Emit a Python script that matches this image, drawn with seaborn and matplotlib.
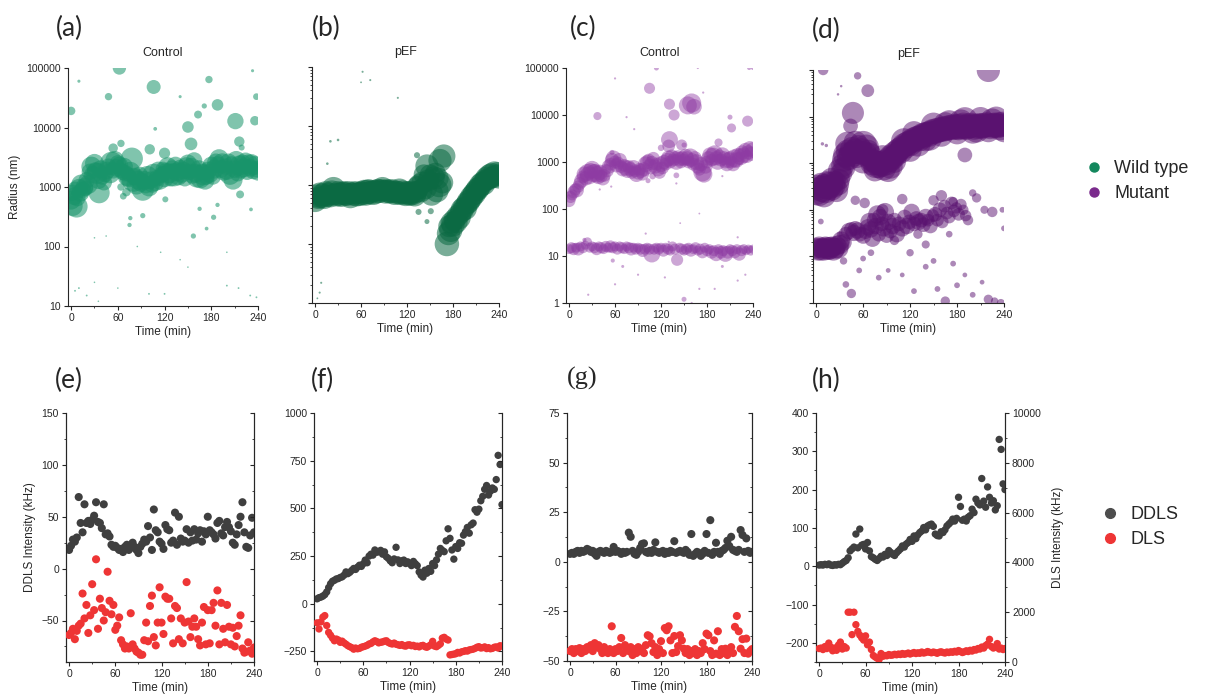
import numpy as np
import pandas as pd
import matplotlib
matplotlib.use("Agg")
import matplotlib.pyplot as plt
from matplotlib.lines import Line2D
from matplotlib.ticker import NullLocator, LogLocator, FuncFormatter, MultipleLocator, NullFormatter
import seaborn as sns

# ---------------- DATA ----------------
# Top row: (time min, radius nm, relative intensity %)
a_band = [(0,600,40),(1,800,30),(2,480,45),(4,700,35),(5,900,30),(7,470,55),(8,650,30),(10,950,40),(12,800,35),(13,1100,45),
          (15,900,30),(17,1000,35),(19,950,25),(20,1300,30),(22,1100,40),(24,1800,30),(26,2200,45),(28,1600,35),(30,2500,40),
          (31,1900,30),(33,1700,50),(35,1300,35),(36,800,50),(38,2000,35),(40,1500,30),(42,1200,30),(44,1600,25),(46,1900,35),
          (48,2200,30),(50,1700,45),(52,2500,60),(54,1900,30),(56,2800,40),(58,2100,35),(60,2500,30),(62,2300,35),(64,1900,25),
          (66,1800,30),(68,2200,35),(70,1700,30),(72,1500,40),(74,1400,35),(76,1800,45),(78,3000,55),(80,1300,60),(82,1500,35),
          (84,1100,45),(86,1300,40),(88,1600,30),(90,1200,40),(92,900,55),(94,1300,40),(96,1100,35),(98,1500,50),(100,1000,40),
          (102,1300,35),(104,1100,30),(106,1600,55),(108,1200,35),(110,1400,30),(112,1900,35),(114,1300,40),(116,1600,30),
          (118,2000,25),(120,1500,50),(122,1800,35),(124,2200,40),(126,1700,45),(128,1400,30),(130,2000,35),(132,1600,60),
          (134,2300,35),(136,1800,40),(138,1500,35),(140,2100,30),(142,1700,40),(144,1900,35),(146,1400,30),(148,2200,40),
          (150,2500,35),(152,1800,30),(154,2100,45),(156,1600,35),(158,2800,30),(160,1700,40),(162,1500,55),(164,2000,35),
          (166,1400,45),(168,1800,30),(170,1600,50),(172,1300,40),(174,1500,30),(176,1900,35),(178,1700,40),(180,2300,35),
          (182,1500,30),(184,2000,40),(186,2600,35),(188,2400,30),(190,3000,40),(192,2000,35),(194,2500,45),(196,1800,35),
          (198,2200,30),(200,1900,40),(202,2600,35),(204,1600,45),(206,2400,30),(208,1300,40),(210,2000,35),(212,2800,40),
          (214,1700,30),(216,2300,45),(218,1900,30),(220,2500,35),(222,2100,40),(224,2700,35),(226,1800,30),(228,2400,45),
          (230,2100,35),(232,2600,30),(234,1900,35),(236,2300,40),(238,2000,30),(240,1800,35)]
a_out = [(0,19000,8),(62,100000,20),(106,48000,22),(48,33000,6),(177,64000,6),(188,24000,15),(211,12800,30),(236,13000,10),
         (238,33000,5),(150,10200,15),(154,5300,18),(163,16500,7),(171,23000,3),(216,5800,12),(219,4600,4),(101,4300,12),
         (120,3700,14),(54,4500,10),(64,5400,6),(64,1000,6),(71,820,8),(67,700,5),(217,750,7),(121,620,4),(92,330,3),
         (76,300,2),(75,230,2),(188,500,2),(183,310,3),(165,430,2),(157,150,3),(174,200,1.5),(231,420,1.5),(108,9500,1.5),
         (140,33000,1),(10,60000,1),(233,90000,1),(5,18,0.3),(10,20,0.3),(20,15,0.3),(30,25,0.2),(60,20,0.2),(100,16,0.3),
         (120,16,0.3),(140,60,0.2),(150,45,0.2),(200,22,0.3),(215,20,0.3),(230,15,0.3),(238,14,0.3),(45,150,0.2),(200,80,0.2),
         (85,100,0.2),(30,140,0.2),(115,80,0.2),(35,12,0.2)]

b_band = [(0,560,50),(2,650,45),(4,600,40),(6,700,45),(8,620,40),(10,680,45),(12,600,40),(14,720,50),(16,650,40),(18,700,45),
          (20,640,40),(22,760,45),(24,850,50),(26,700,40),(28,680,45),(30,760,40),(32,700,45),(34,650,40),(36,720,45),(38,760,40),
          (40,700,45),(42,680,40),(44,740,45),(46,650,50),(48,720,40),(50,700,45),(52,760,40),(54,680,45),(56,730,40),(58,690,45),
          (60,760,40),(62,720,45),(64,800,40),(66,700,45),(68,760,50),(70,820,40),(72,740,45),(74,780,40),(76,720,45),(78,800,40),
          (80,760,45),(82,830,40),(84,780,45),(86,820,40),(88,870,45),(90,800,40),(92,760,45),(94,820,40),(96,780,45),(98,740,40),
          (100,800,45),(102,760,40),(104,720,45),(106,780,40),(108,740,45),(110,800,50),(112,700,40),(114,760,45),(116,720,40),
          (118,690,45),(120,760,40),(122,720,45),(124,680,40),(126,750,45),(128,700,40),(130,680,45),(132,760,40),(134,900,45),
          (136,1000,40),(138,800,45),(140,1100,40),(142,1500,35),(144,900,45),(146,2100,45),(148,1200,40),(150,1500,35),
          (152,700,45),(155,1350,40),(157,1600,35),(159,800,45),(160,1300,40),(162,1000,50),(163,2600,45),(168,3100,45),
          (166,1100,40),(172,100,50),(174,150,45),(175,200,40),(177,170,45),(178,230,40),(180,210,45),(182,260,40),(184,240,45),
          (186,300,40),(188,280,45),(190,340,40),(192,380,45),(194,420,40),(196,400,45),(198,480,40),(200,520,45),(202,560,40),
          (204,620,45),(206,680,40),(208,720,45),(210,800,40),(212,850,45),(214,900,40),(216,1000,45),(218,1100,40),
          (220,1050,45),(222,1200,40),(224,1300,45),(226,1250,40),(228,1400,50),(230,1500,45),(232,1350,40),(234,1600,45),
          (236,1450,40),(238,1550,45),(240,1400,50)]
b_out = [(133,3200,3),(135,350,3),(151,360,3),(146,240,2),(62,83000,0.3),(72,60000,0.3),(20,5500,0.5),(30,5800,0.5),
         (16,2300,0.5),(108,30000,0.3),(8,22,0.3),(6,15,0.3),(60,55000,0.2),(3,12,0.2)]

c_band = [(0,150,20),(2,180,18),(4,200,15),(6,230,20),(8,260,18),(10,250,25),(12,300,18),(14,350,20),(16,400,25),(18,480,20),
          (20,550,30),(22,450,25),(24,600,35),(26,520,40),(28,650,30),(30,700,35),(32,580,40),(34,620,30),(36,550,35),(38,480,25),
          (40,600,30),(42,500,20),(44,450,25),(46,520,20),(48,700,15),(50,650,20),(52,800,25),(54,900,20),(56,1100,25),(58,1200,30),
          (60,1000,20),(62,850,25),(64,950,20),(66,1100,25),(68,800,20),(70,700,25),(72,850,20),(74,750,30),(76,650,25),(78,800,20),
          (80,700,25),(82,600,20),(84,750,30),(86,650,20),(88,550,30),(90,600,25),(92,700,20),(94,650,25),(96,550,20),(98,700,25),
          (100,900,30),(102,1000,25),(104,1100,20),(106,800,30),(108,950,25),(110,1200,20),(112,800,25),(114,900,20),(116,700,25),
          (118,600,20),(120,900,30),(122,750,20),(124,1000,25),(126,900,20),(128,1100,25),(130,1200,30),(132,1000,20),
          (134,1300,25),(136,1100,20),(138,1200,25),(140,1000,30),(142,1300,20),(144,1150,25),(146,1000,20),(148,1200,25),
          (150,1100,20),(152,1300,30),(154,1200,25),(156,1000,20),(158,1250,40),(160,1100,25),(162,900,20),(164,1200,25),
          (166,1000,30),(168,800,25),(170,700,20),(172,900,25),(174,600,40),(176,550,35),(178,800,25),(180,1000,20),
          (182,1200,25),(184,1400,30),(186,1100,20),(188,1300,40),(190,1500,35),(192,1200,25),(194,1000,30),(196,1300,25),
          (198,1100,20),(200,1400,30),(202,1200,25),(204,1000,20),(206,900,25),(208,1100,30),(210,1200,25),(212,1000,20),
          (214,900,25),(216,1200,40),(218,1100,30),(220,1400,25),(222,1200,20),(224,1300,35),(226,1600,25),(228,1400,30),
          (230,1800,25),(232,1300,20),(234,1600,25),(236,1900,30),(238,1500,25),(240,1800,30)]
c_low = [(0,14,12),(3,15,15),(6,14,18),(9,15,12),(12,14,20),(15,16,12),(18,15,15),(21,17,10),(24,20,10),(27,15,12),
         (30,16,12),(33,15,15),(36,14,18),(39,16,12),(42,15,15),(45,14,12),(48,16,15),(51,15,12),(54,16,18),(57,15,15),
         (60,16,12),(63,14,15),(66,16,12),(69,15,15),(72,14,12),(75,16,12),(78,15,15),(81,14,20),(84,15,12),(87,14,15),
         (90,15,12),(93,14,15),(96,13,20),(99,14,15),(102,15,12),(105,14,15),(108,11,35),(111,14,15),(114,15,12),(117,14,15),
         (120,15,12),(123,13,18),(126,15,12),(129,14,15),(132,13,12),(135,16,12),(138,14,15),(141,8.3,18),(144,15,12),
         (147,14,15),(150,13,12),(153,14,15),(156,15,12),(159,13,18),(162,14,12),(165,15,15),(168,13,12),(171,14,15),
         (174,12,18),(177,15,12),(180,13,15),(183,14,12),(186,12,20),(189,13,15),(192,11,25),(195,14,12),(198,12,20),
         (201,13,15),(204,11,30),(207,12,20),(210,14,12),(213,13,15),(216,12,18),(219,14,12),(222,11,22),(225,13,15),
         (228,14,12),(231,13,10),(234,14,10),(237,13,12),(240,14,10)]
c_out = [(131,3000,35),(130,2200,20),(147,2300,15),(155,16000,40),(160,18000,45),(163,15000,30),(131,17000,15),
         (137,10000,15),(105,37000,15),(114,100000,3),(168,100000,0.5),(175,30000,0.5),(210,9000,3),(212,5300,10),(233,7400,15),
         (235,100000,2),(240,100000,2),(37,9500,8),(195,2600,8),(120,2000,5),(109,500,5),(140,520,4),(103,400,3),(56,1600,3),
         (150,2300,3),(60,60000,0.5),(75,9000,0.5),(85,5000,0.5),(20,22,2),(40,260,0.5),(220,25,0.5),(150,1.2,3),(160,1,0.5),
         (55,300,0.5),(140,350,0.5),(70,6,1),(90,4,0.5),(200,6,1),(190,2,0.5),(220,3,0.5),(230,4,0.5),(130,20,0.5),(100,30,0.5),
         (145,50,0.3),(170,80,0.3),(57,8,2),(200,500,0.5),(170,2,0.5),(125,3.5,0.5),(60,2.5,0.5),(25,1.5,0.5)]

d_band = [(0,250,70),(2,300,60),(4,220,55),(6,350,50),(8,280,65),(10,320,55),(12,260,60),(14,380,50),(16,300,55),(18,350,60),
          (20,280,50),(22,330,55),(24,400,45),(26,260,50),(28,350,45),(30,450,40),(32,600,45),(34,900,50),(36,1200,55),
          (38,1500,60),(40,1800,50),(42,1300,55),(44,1600,50),(46,2000,55),(48,1500,50),(50,1800,60),(52,1400,50),(54,2200,55),
          (56,1700,50),(58,2000,45),(60,2500,70),(62,1600,55),(64,2200,60),(66,1800,50),(68,1500,55),(70,1200,50),(72,1000,55),
          (74,1100,50),(76,900,60),(78,1000,55),(80,850,50),(82,1000,55),(84,900,50),(86,800,60),(88,1100,50),(90,1000,55),
          (92,700,50),(94,1200,60),(96,1400,55),(98,1300,50),(100,1600,55),(102,1500,50),(104,1800,55),(106,2000,50),
          (108,1800,55),(110,2200,50),(112,2400,55),(114,2200,50),(116,2600,55),(118,2800,50),(120,2600,55),(122,3000,50),
          (124,3200,55),(126,3000,50),(128,3400,55),(130,3600,50),(132,3300,55),(134,3800,50),(136,4000,55),(138,3700,50),
          (140,4200,55),(142,4400,50),(144,4100,55),(146,4600,50),(148,4800,55),(150,4500,50),(152,5000,55),(154,4700,50),
          (156,5200,55),(158,5000,50),(160,5400,55),(162,5100,50),(164,5600,55),(166,5300,50),(168,5800,55),(170,5500,50),
          (172,6000,55),(174,5600,50),(176,6200,55),(178,5800,50),(180,6000,60),(182,5500,50),(184,6300,55),(186,5800,50),
          (188,6500,60),(190,6000,55),(192,5600,50),(194,6400,55),(196,6000,50),(198,6600,55),(200,6200,50),(202,5800,55),
          (204,6500,50),(206,6100,55),(208,6700,50),(210,6300,55),(212,5900,50),(214,6600,55),(216,6200,50),(218,6800,55),
          (220,6400,50),(222,6000,55),(224,6700,50),(226,6300,55),(228,6900,50),(230,6500,55),(232,6100,50),(234,6800,55),
          (236,6400,50),(238,7000,55),(240,6600,50)]
d_band2 = [(112,3000,60),(120,1900,50),(130,2600,60),(140,3200,50),(150,6500,60),(160,4000,50),(170,7500,55),(180,4500,50),
           (190,8500,60),(200,4800,55),(210,8800,55),(220,5000,50),(230,9000,55),(240,5000,50),(100,1100,50),(60,1100,55),
           (50,2800,50),(40,2600,55),(20,450,50),(10,200,50),(85,1300,60),(75,700,45),(95,850,55),(30,700,50),(36,800,45),
           (125,4500,50),(145,3400,55),(165,7000,50),(185,7800,55),(205,5200,60),(225,8200,55),(235,5800,60)]
d_low = [(0,15,40),(2,14,45),(4,16,40),(6,14,45),(8,15,40),(10,14,45),(12,16,40),(14,15,45),(16,14,40),(18,15,45),
         (20,16,40),(22,14,45),(24,15,40),(26,17,35),(28,15,40),(30,18,35),(32,22,30),(35,20,25),(38,30,20),(42,35,25),
         (45,38,20),(48,32,25),(50,40,20),(53,36,25),(56,30,20),(60,28,25),(63,34,20),(66,42,25),(68,55,30),(70,38,25),
         (72,24,25),(74,60,20),(76,45,25),(78,80,30),(80,30,20),(82,70,25),(84,50,20),(86,40,25),(88,90,30),(90,28,20),
         (92,55,25),(95,35,20),(98,45,25),(100,60,20),(103,30,25),(106,50,20),(110,40,25),(113,70,20),(116,45,25),
         (119,55,20),(122,90,25),(125,50,20),(128,65,20),(131,55,25),(134,60,20),(137,48,20),(140,70,25),(143,60,15),
         (146,45,20),(149,75,15),(152,80,20),(155,60,15),(158,100,20),(161,55,15),(164,120,15),(167,85,15),(170,70,15),
         (173,140,15),(176,95,15),(179,110,12),(182,80,15),(185,130,12),(188,100,10),(191,75,12),(194,60,10)]
d_out = [(47,12000,45),(44,6300,20),(66,36000,15),(53,75000,5),(9,100000,10),(220,98000,50),(190,1500,20),(8,2600,1),
         (13,2400,1),(28,30000,0.5),(32,45000,0.5),(6,56,3),(50,160,8),(62,140,10),(85,100,12),(110,170,10),(130,30,8),
         (150,160,10),(160,200,12),(175,150,8),(200,230,5),(205,180,8),(215,100,6),(225,90,10),(238,100,3),(35,8,5),
         (38,2.5,4),(45,1.6,8),(55,5,3),(70,12,4),(80,3.5,3),(92,5,2),(110,4,2),(125,1.8,3),(140,6,3),(155,2,3),
         (165,1.1,8),(175,7,3),(180,2.4,3),(190,4,2),(200,1.5,3),(212,2.8,2),(220,1.2,8),(228,1.1,5),(236,1.0,6),
         (150,8,3),(120,12,5),(140,18,6),(30,30,3),(240,40,3),(170,30,4),(60,9,3),(100,22,8)]

# Bottom row: intensities sampled evenly over 0-240 min
e_ddls = [18,22,28,26,30,69,44,35,62,44,46,43,47,51,64,45,44,39,62,33,34,31,23,21,22,20,18,19,16,21,23,18,20,25,21,18,15,
          21,24,28,26,41,30,18,57,37,35,26,24,19,42,38,37,25,27,54,23,50,29,26,27,38,25,35,27,38,28,34,37,26,36,33,50,37,
          35,33,29,44,46,34,32,40,45,40,36,25,23,33,42,50,64,35,21,20,32,49,35]
e_dls = [-64,-62,-58,-68,-60,-55,-53,-24,-48,-35,-62,-45,-15,-40,9,-58,-29,-38,-50,-42,-3,-31,-44,-35,-59,-55,-47,-69,
         -73,-77,-75,-77,-43,-73,-77,-80,-81,-83,-83,-69,-52,-70,-36,-26,-66,-74,-52,-18,-52,-63,-27,-29,-29,-48,-72,-36,
         -38,-68,-48,-72,-52,-13,-51,-66,-56,-48,-56,-68,-74,-52,-37,-73,-40,-72,-40,-33,-55,-21,-73,-33,-58,-71,-35,-56,
         -73,-57,-75,-65,-55,-45,-77,-81,-80,-71,-79,-82,-76]
f_ddls = [26,32,35,40,48,62,85,105,118,123,130,132,138,141,150,167,158,165,175,185,180,192,202,196,210,229,215,250,260,
          255,282,270,273,280,260,272,246,238,225,215,235,296,230,211,225,229,211,220,211,200,222,210,200,167,150,140,176,
          160,185,170,211,200,230,260,290,280,273,330,393,343,282,234,300,290,320,317,360,378,400,370,414,423,493,480,496,
          540,563,600,620,570,590,607,600,651,778,730,520]
f_dls = [-100,-132,-95,-70,-62,-114,-150,-165,-180,-194,-185,-190,-202,-196,-205,-212,-220,-225,-230,-238,-232,-236,
         -234,-228,-225,-222,-218,-211,-208,-200,-194,-198,-205,-202,-200,-196,-194,-203,-208,-211,-206,-212,-215,-218,
         -214,-220,-222,-216,-215,-220,-218,-224,-222,-226,-220,-218,-225,-228,-222,-215,-197,-222,-225,-218,-210,-180,
         -176,-185,-190,-268,-266,-264,-262,-255,-258,-252,-250,-246,-248,-242,-240,-238,-234,-228,-225,-232,-230,-226,
         -235,-230,-236,-234,-228,-226,-232,-220,-222]
g_ddls = [4,4.5,4,5,5.5,4.5,5.5,5,5.5,6.5,6,5,5.5,4,3,5,5.5,5,4.5,5.5,5,4.5,5,7.5,5,5.5,5,4,5,4.5,5,14.7,12.6,5.5,4,
          3.5,5,7,9,9.3,5,4.5,5.5,4.5,6,9.8,5,4.5,5,5.5,4,5,4.5,5.5,5,10.4,4.5,5,5.5,5,4.5,6,5,3.5,14,3,4,5,4.5,3,4,
          5.5,14,4.5,21,3.5,5,9.6,5,4,5.5,6,7,10.6,8,12.6,6,5.5,5,6,16,13.5,5,11.8,5.5,4.5,5]
g_dls = [-45,-44,-46,-44,-45,-43.5,-46,-44,-45,-43,-44,-42,-45,-41,-43,-42,-44,-46,-43,-45,-46,-44,-32.5,-46,-44,-45,
         -43,-38.4,-46,-42,-44,-45,-43,-47,-44,-46,-43,-45,-44,-46,-42,-37,-37.6,-41,-45.5,-43,-47,-44,-40,-46,-33.4,
         -34.5,-32.5,-39.6,-46,-37.4,-45.5,-42.5,-37,-39.6,-43.8,-46,-44,-47,-45,-46,-44,-47,-45,-46,-41,-44,-36.2,-37,
         -45,-47,-39.6,-46.3,-35,-47,-44,-46,-43.8,-47,-45,-43,-46,-32.8,-27.3,-35,-43.8,-39,-46,-38.7,-46.3,-45,-44]
h_ddls = [3,4,3,5,4,6,3,2,4,3,5,4,8,12,15,22,40,45,50,84,48,97,55,57,45,62,40,25,22,18,15,20,26,24,31,28,41,36,31,28,
          35,40,45,53,50,58,62,70,65,79,72,82,88,92,101,95,105,108,110,104,84,80,79,90,88,95,105,110,115,123,118,125,180,
          156,120,123,118,128,132,149,140,175,165,160,229,170,154,207,180,165,171,147,158,331,305,215,200]
h_dls_khz = [540,560,500,620,540,760,600,450,560,470,680,800,520,620,560,2000,2000,1100,2000,1500,1230,1080,970,880,
             1050,690,800,500,260,200,150,100,340,230,260,250,300,270,280,310,290,320,300,340,310,330,360,320,350,380,
             340,370,350,400,360,380,420,390,370,400,380,350,390,410,380,360,400,380,410,390,430,400,460,420,380,410,
             450,420,470,440,500,480,540,520,600,560,660,720,910,620,560,600,740,520,560,500,540]

legend_top = ["Wild type", "Mutant"]
legend_bottom = ["DDLS", "DLS"]
panel_letters = ["(a)", "(b)", "(c)", "(d)", "(e)", "(f)", "(g)", "(h)"]
top_titles = ["Control", "pEF", "Control", "pEF"]
time_ticks = [0, 60, 120, 180, 240]

# ---------------- STYLE ----------------
sns.set_theme(style="ticks")
plt.rcParams['font.family'] = ['Liberation Sans', 'DejaVu Sans']
plt.rcParams['axes.linewidth'] = 0.8

W, H = 1212, 700
fig = plt.figure(figsize=(W / 100, H / 100), dpi=100)

def rect(l, r, t, b):
    return [l / W, 1 - b / H, (r - l) / W, (b - t) / H]

top_rects = [rect(68, 258, 68, 306), rect(312, 499, 67, 303), rect(566, 753, 68, 303), rect(813, 1004, 70, 303)]
bot_rects = [rect(66, 254, 413, 662), rect(314, 502, 413, 661), rect(567, 752, 413, 661), rect(816, 1005, 413, 662)]

GREEN_A, GREEN_B = "#18946a", "#0b6a43"
PURP_C, PURP_D = "#8e3ba3", "#5a1270"
DDLS_C, DLS_C = "#3f3f3f", "#ee3535"

def to_df(*lists):
    rows = [r for l in lists for r in l]
    return pd.DataFrame(rows, columns=["t", "r", "s"])

# (data, colour, alpha, y-min, max marker area)
top_data = [(to_df(a_band, a_out), GREEN_A, 0.55, 10, 460),
            (to_df(b_band, b_out), GREEN_B, 0.55, 10, 620),
            (to_df(c_band, c_low, c_out), PURP_C, 0.45, 1, 420),
            (to_df(d_band, d_band2, d_low, d_out), PURP_D, 0.5, 1, 560)]

for i, (df, col, al, ymin, smax) in enumerate(top_data):
    ax = fig.add_axes(top_rects[i])
    sns.scatterplot(data=df, x="t", y="r", size="s", sizes=(0.4, smax), size_norm=(0, 100),
                    color=col, alpha=al, edgecolor="none", linewidth=0, legend=False, ax=ax)
    ax.set_yscale("log")
    ax.set_ylim(ymin, 100000)
    ax.set_xlim(-4, 240)
    ax.set_xticks(time_ticks)
    ax.xaxis.set_minor_locator(MultipleLocator(30))
    ax.yaxis.set_major_locator(LogLocator(base=10, numticks=10))
    if i in (0, 2):
        ax.yaxis.set_major_formatter(FuncFormatter(lambda v, p: f"{int(round(v))}"))
        ax.yaxis.set_minor_locator(NullLocator())
    else:
        ax.yaxis.set_major_formatter(NullFormatter())
        ax.yaxis.set_minor_locator(LogLocator(base=10, subs=np.arange(2, 10), numticks=20))
        ax.yaxis.set_minor_formatter(NullFormatter())
    ax.tick_params(axis="both", which="major", length=3, width=0.8, labelsize=7.5, pad=2, direction="out")
    ax.tick_params(axis="both", which="minor", length=1.6, width=0.6, direction="out")
    sns.despine(ax=ax)
    ax.set_xlabel("Time (min)", fontsize=8.5, labelpad=2)
    ax.set_ylabel("Radius (nm)" if i == 0 else "", fontsize=8.5, labelpad=4)
    ax.set_title(top_titles[i], fontsize=9, pad=9)

bot_data = [(e_ddls, e_dls, (-90, 150), 50, 25, 34),
            (f_ddls, f_dls, (-300, 1000), 250, 125, 28),
            (g_ddls, g_dls, (-50, 75), 25, 12.5, 34),
            (h_ddls, h_dls_khz, (-250, 400), 100, 50, 28)]

for i, (dd, dl, ylim, maj, mnr, msize) in enumerate(bot_data):
    ax = fig.add_axes(bot_rects[i])
    t_dd = np.linspace(0, 240, len(dd))
    t_dl = np.linspace(0, 240, len(dl))
    sns.scatterplot(x=t_dd, y=dd, color=DDLS_C, s=msize, edgecolor="none", linewidth=0, ax=ax, legend=False, zorder=3)
    ax.set_xlim(-4, 240)
    ax.set_ylim(*ylim)
    ax.set_xticks(time_ticks)
    ax.xaxis.set_minor_locator(MultipleLocator(30))
    ax.yaxis.set_major_locator(MultipleLocator(maj))
    ax.yaxis.set_minor_locator(MultipleLocator(mnr))
    ax.tick_params(axis="both", which="major", length=3, width=0.8, labelsize=7.5, pad=2, direction="out")
    ax.tick_params(axis="both", which="minor", length=1.6, width=0.6, direction="out")
    ax.spines["top"].set_visible(False)
    ax.set_xlabel("Time (min)", fontsize=8.5, labelpad=2)
    ax.set_ylabel("DDLS Intensity (kHz)" if i == 0 else "", fontsize=8.5, labelpad=4)
    ax2 = ax.twinx()
    ax2.spines["top"].set_visible(False)
    if i == 3:
        ax2.set_ylim(0, 10000)
        ax2.yaxis.set_major_locator(MultipleLocator(2000))
        ax2.yaxis.set_minor_locator(MultipleLocator(1000))
        ax2.tick_params(axis="y", which="major", length=3, width=0.8, labelsize=7.5, pad=2, direction="out")
        ax2.tick_params(axis="y", which="minor", length=1.6, width=0.6, direction="out")
        ax2.set_ylabel("DLS Intensity (kHz)", fontsize=8.5, labelpad=8)
    else:
        ax2.set_ylim(*ylim)
        ax2.yaxis.set_major_locator(MultipleLocator(maj))
        ax2.yaxis.set_minor_locator(MultipleLocator(mnr))
        ax2.yaxis.set_major_formatter(NullFormatter())
        ax2.tick_params(axis="y", which="major", length=3, width=0.8, direction="in")
        ax2.tick_params(axis="y", which="minor", length=1.6, width=0.6, direction="in")
    sns.scatterplot(x=t_dl, y=dl, color=DLS_C, s=msize, edgecolor="none", linewidth=0, ax=ax2, legend=False, zorder=3)
    ax2.set_xlim(-4, 240)

# Panel letters
letter_pos = [(69, 28), (326, 28), (583, 28), (826, 30), (69, 380), (322, 380), (582, 378), (826, 380)]
for lab, (px, py) in zip(panel_letters, letter_pos):
    fam = ['Liberation Serif', 'DejaVu Serif'] if lab == "(g)" else ['Lato', 'DejaVu Sans']
    fig.text(px / W, 1 - py / H, lab, fontsize=19, ha="center", va="center", family=fam)

# Legends
h_top = [Line2D([], [], marker="o", ls="", color="#13875d", markersize=6.5, label=legend_top[0]),
         Line2D([], [], marker="o", ls="", color="#7a2a8c", markersize=6.5, label=legend_top[1])]
fig.legend(handles=h_top, loc="center left", bbox_to_anchor=(1069 / W, 1 - 181 / H), frameon=False,
           fontsize=13, handletextpad=0.1, labelspacing=0.45, borderaxespad=0)
h_bot = [Line2D([], [], marker="o", ls="", color="#4d4d4d", markersize=7, label=legend_bottom[0]),
         Line2D([], [], marker="o", ls="", color="#ee3535", markersize=7, label=legend_bottom[1])]
fig.legend(handles=h_bot, loc="center left", bbox_to_anchor=(1085 / W, 1 - 527 / H), frameon=False,
           fontsize=13, handletextpad=0.1, labelspacing=0.45, borderaxespad=0)

fig.savefig("out.png", dpi=100)
